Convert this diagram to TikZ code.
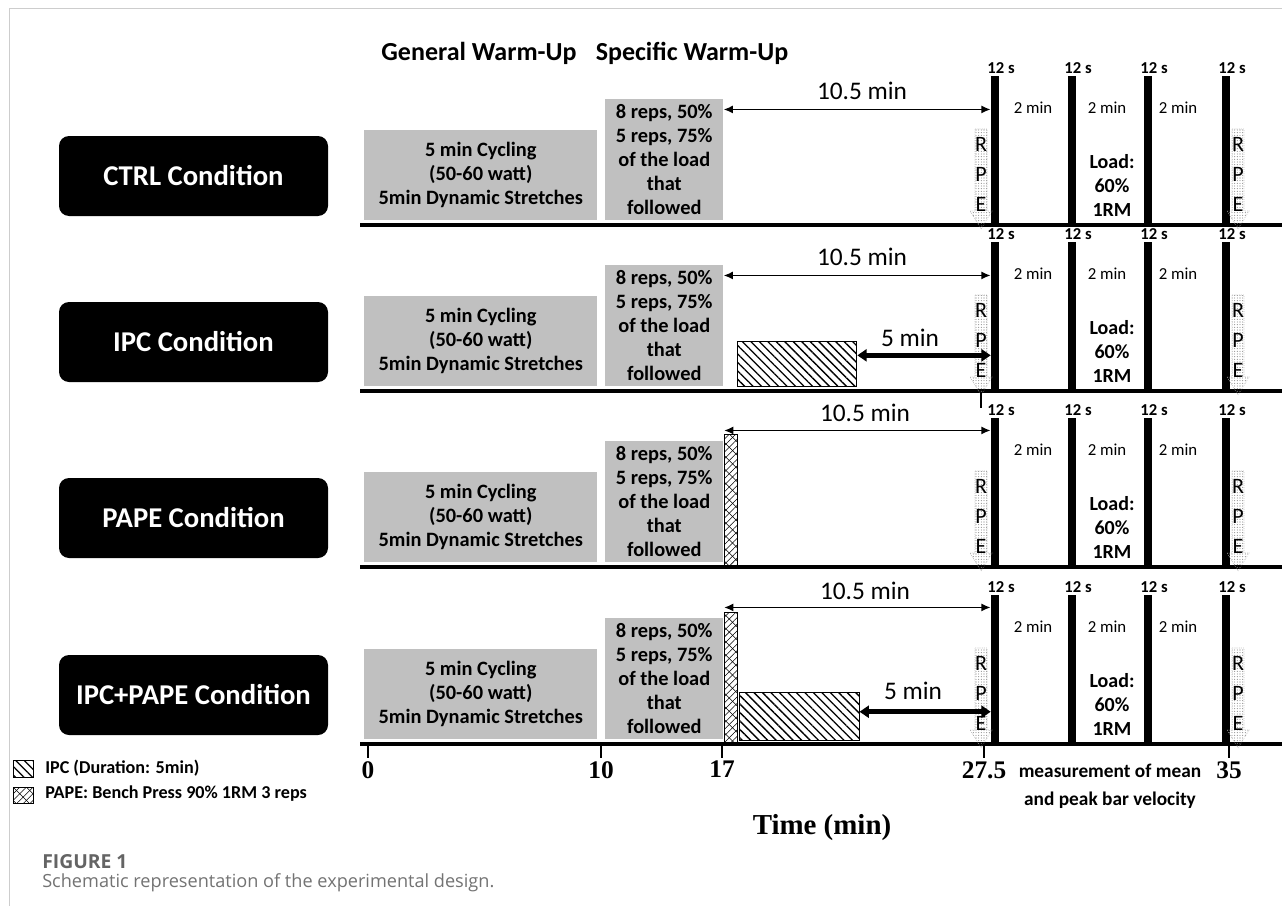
\documentclass[tikz,border=0pt]{standalone}
\usepackage{fontspec}
\setmainfont{Carlito}
\newfontfamily\timesfont{Liberation Serif}
\newfontfamily\capfont{Open Sans}
\usepackage{tikz}
\usetikzlibrary{positioning, arrows.meta, patterns.meta, calc}
\definecolor{warmgray}{RGB}{192,192,192}
\definecolor{framegray}{RGB}{205,205,205}
\definecolor{capgray}{RGB}{100,100,100}
\definecolor{captext}{RGB}{115,115,115}

\begin{document}
\begin{tikzpicture}[
  x=0.75pt, y=-0.75pt,
  cond/.style={fill=black, text=white, rounded corners=7.5pt,
               minimum width=201.75pt, minimum height=60pt,
               font=\fontsize{21.5}{24}\selectfont\bfseries},
  genbox/.style={fill=warmgray, minimum width=174.75pt, minimum height=67.5pt,
                 align=center, inner sep=0pt,
                 font=\fontsize{15.3}{18}\selectfont\bfseries},
  specbox/.style={genbox, minimum width=88.5pt, minimum height=90.75pt},
  head/.style={font=\fontsize{19.5}{22}\selectfont\bfseries},
  base/.style={line width=3pt},
  bar/.style={fill=black, minimum width=6pt, minimum height=111.75pt, inner sep=0pt},
  secs/.style={font=\fontsize{12.5}{13}\selectfont\bfseries, inner sep=0pt},
  rest/.style={font=\fontsize{12.6}{14}\selectfont},
  load/.style={font=\fontsize{15}{18}\selectfont\bfseries, align=center},
  rpe/.style={draw=gray!70, densely dotted, thin,
              pattern={Dots[radius=0.4pt, distance=2pt]}, pattern color=gray},
  rpetext/.style={font=\fontsize{16.5}{22.5}\selectfont, align=center, inner sep=0pt},
  dur/.style={font=\fontsize{19}{22}\selectfont},
  arr/.style={{Latex[length=7pt,width=6pt]}-{Latex[length=7pt,width=6pt]}, line width=1.3pt},
  thickarr/.style={{Triangle[length=7pt,width=9pt]}-{Triangle[length=7pt,width=9pt]}, line width=4pt},
  ipcbox/.style={draw=black, thin, inner sep=0pt,
                 pattern={Lines[angle=-45, distance=4.5pt, line width=1pt]}},
  papebox/.style={draw=black, thin, inner sep=0pt,
                  preaction={pattern={Lines[angle=45, distance=3.5pt, line width=0.4pt]}},
                  pattern={Lines[angle=-45, distance=7pt, line width=0.4pt]}},
  tick/.style={line width=1.3pt},
  axnum/.style={font=\timesfont\fontsize{19}{21}\selectfont\bfseries, inner sep=0pt},
  axlab/.style={font=\timesfont\fontsize{21.7}{24}\selectfont\bfseries},
  note/.style={font=\fontsize{14.5}{21}\selectfont\bfseries, align=center},
  legend/.style={font=\fontsize{13.6}{15}\selectfont\bfseries, inner sep=0pt},
]
  \path[fill=white, use as bounding box] (0,0) rectangle (1282,906);
  \draw[framegray, line width=0.75pt] (9,906) -- (9,9) -- (1282,9);

  % Phase headers
  \node[head] (hgen) at (479,53) {General Warm-Up};
  \node[head] (hspec) at (692,53) {Specific Warm-Up};

  % One time line per condition
  \foreach \r/\B/\lab in {1/225/CTRL, 2/391/IPC, 3/567/PAPE, 4/744/IPC+PAPE}{
    \node[cond] (c\r) at (193.5,\B-49) {\lab\ Condition};
    \node[genbox, anchor=south west] (g\r) at (364,\B-5) {5 min Cycling\\(50-60 watt)\\5min Dynamic Stretches};
    \node[specbox, anchor=south west] (s\r) at (605,\B-5) {8 reps, 50\%\\5 reps, 75\%\\of the load\\that\\followed};
    \draw[base] (360,\B) -- (1282,\B);
    % sets of 12 s, 2 min apart
    \foreach \x [count=\k] in {995,1072,1148,1226}{
      \node[bar, anchor=south] (b\r-\k) at (\x,\B) {};
      \node[secs, above=1pt of b\r-\k.north, xshift=4.5pt] (sec\r-\k) {12 s};
    }
    \foreach \x [count=\k] in {1033,1107,1178}{
      \node[rest] (rest\r-\k) at (\x,\B-117) {2 min};
    }
    \node[load] (load\r) at (1112,\B-40) {Load:\\60\%\\1RM};
    % RPE before and after
    \foreach \x/\s in {981/L,1238/R}{
      \path[rpe] (\x-6,\B-96) -- (\x+6,\B-96) -- (\x+6,\B-14) -- (\x+11,\B-14)
        -- (\x,\B+4) -- (\x-11,\B-14) -- (\x-6,\B-14) -- cycle;
      \node[rpetext] (rpe\r\s) at (\x,\B-51) {R\\P\\E};
    }
  }

  % CTRL
  \coordinate (t1) at ($(s1.north east)+(0,11)$);
  \draw[arr] (t1) -- (b1-1.west |- t1);
  \node[dur] (l1) at (862,91) {10.5 min};

  % IPC
  \coordinate (t2) at ($(s2.north east)+(0,11)$);
  \draw[arr] (t2) -- (b2-1.west |- t2);
  \node[dur] (l2) at (862,257) {10.5 min};
  \node[ipcbox, anchor=south west, minimum width=89.25pt, minimum height=33.75pt] (i2) at (737,387) {};
  \coordinate (k2) at ($(i2.east)+(0,-8.5)$);
  \draw[thickarr] (k2) -- (b2-1.west |- k2);
  \node[dur] (m2) at (910,338) {5 min};
  \draw[tick] (981,392) -- (981,408);

  % PAPE
  \node[papebox, anchor=south west, minimum width=9.75pt, minimum height=99pt] (p3) at (724,567) {};
  \coordinate (t3) at ($(p3.north west)+(0,-4)$);
  \draw[arr] (t3) -- (b3-1.west |- t3);
  \node[dur] (l3) at (865,413) {10.5 min};

  % IPC+PAPE
  \node[papebox, anchor=south west, minimum width=9.75pt, minimum height=98.25pt] (p4) at (724,744) {};
  \coordinate (t4) at ($(p4.north west)+(0,-5)$);
  \draw[arr] (t4) -- (b4-1.west |- t4);
  \node[dur] (l4) at (865,591) {10.5 min};
  \node[ipcbox, anchor=south west, minimum width=90pt, minimum height=36pt] (i4) at (739,741) {};
  \coordinate (k4) at ($(i4.east)+(0,-5)$);
  \draw[thickarr] (k4) -- (b4-1.west |- k4);
  \node[dur] (m4) at (913,691) {5 min};

  % Time axis
  \foreach \x/\t [count=\k] in {368/0,601/10,722/17,984/27.5,1229/35}{
    \draw[tick] (\x,744) -- (\x,758);
    \node[axnum, anchor=north] (ax\k) at (\x,761) {\t};
  }
  \node[axlab] (time) at (822,828) {Time (min)};
  \node[note] (meas) at (1110,786) {measurement of mean\\and peak bar velocity};

  % Legend
  \node[ipcbox, minimum width=15pt, minimum height=12.75pt] (legI) at (23,768.5) {};
  \node[legend, anchor=west] (legIt) at (45,768) {IPC (Duration: 5min)};
  \node[papebox, minimum width=15pt, minimum height=12pt] (legP) at (23,795) {};
  \node[legend, anchor=west] (legPt) at (45,794) {PAPE: Bench Press 90\% 1RM 3 reps};

  % Caption
  \node[anchor=west, inner sep=0pt, text=capgray, font=\capfont\fontsize{14.5}{16}\selectfont\bfseries] (fig) at (42,862) {FIGURE 1};
  \node[anchor=west, inner sep=0pt, text=captext, font=\capfont\fontsize{13.6}{16}\selectfont] (capt) at (42,883) {Schematic representation of the experimental design.};
\end{tikzpicture}
\end{document}
